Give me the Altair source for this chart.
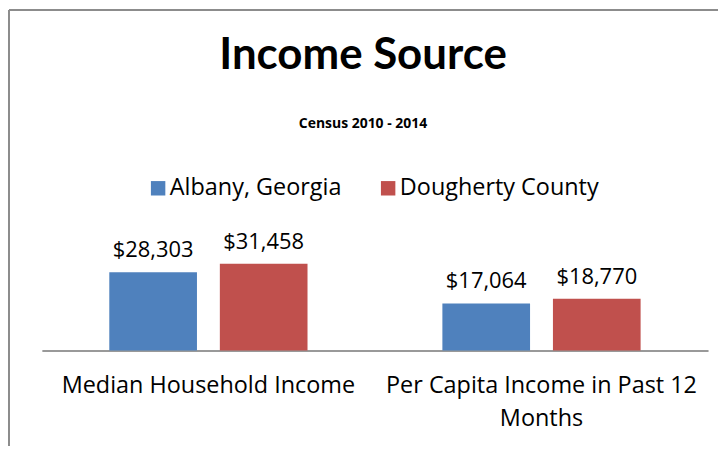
import altair as alt
import pandas as pd

categories = ["Median Household Income", "Per Capita Income in Past 12 Months"]
series = ["Albany, Georgia", "Dougherty County"]
albany = [28303, 17064]
dougherty = [31458, 18770]
colors = ["#4F81BD", "#C0504D"]
wrapped = {"Per Capita Income in Past 12 Months": ["Per Capita Income in Past 12", "Months"]}

rows = []
for i, c in enumerate(categories):
    rows.append({"category": c, "series": series[0], "value": albany[i]})
    rows.append({"category": c, "series": series[1], "value": dougherty[i]})
df = pd.DataFrame(rows)

label_expr = "datum.label"
for k, v in wrapped.items():
    label_expr = f"datum.label == '{k}' ? {v!r} : " + label_expr

FONT = "Open Sans"
TFONT = "Lato"

x_enc = alt.X("category:N", sort=categories,
              scale=alt.Scale(paddingInner=0, paddingOuter=0),
              axis=alt.Axis(title=None, ticks=False, labelAngle=0, labelFontSize=23.5,
                            labelFont=FONT, labelColor="black", labelPadding=23,
                            labelLineHeight=33, labelLimit=0, labelExpr=label_expr,
                            domainColor="#999999", domainWidth=2))
xo_enc = alt.XOffset("series:N", sort=series,
                     scale=alt.Scale(paddingInner=0.207, paddingOuter=0.61))
y_enc = alt.Y("value:Q", scale=alt.Scale(domain=[0, 35000]), axis=None)

base = alt.Chart(df)
bars = base.mark_bar().encode(
    x=x_enc, xOffset=xo_enc, y=y_enc,
    color=alt.Color("series:N", sort=series,
                    scale=alt.Scale(domain=series, range=colors),
                    legend=alt.Legend(title=None, orient="none", legendX=105, legendY=-78,
                                      direction="horizontal", symbolType="square",
                                      symbolSize=210, symbolStrokeWidth=0,
                                      labelFontSize=23.5, labelFont=FONT, labelColor="black",
                                      labelLimit=400, labelOffset=0, columnPadding=35,
                                      padding=0)),
)
labels = base.mark_text(dy=-15, baseline="alphabetic", fontSize=22, font=FONT, color="black").encode(
    x=x_enc, xOffset=xo_enc, y=y_enc,
    text=alt.Text("value:Q", format="$,.0f"),
)

frame_df = pd.DataFrame({"a": [0]})
left_border = alt.Chart(frame_df).mark_rule(color="#8c8c8c", strokeWidth=2).encode(
    x=alt.value(-33), y=alt.value(-245), y2=alt.value(200))
top_border = alt.Chart(frame_df).mark_rule(color="#8c8c8c", strokeWidth=2).encode(
    x=alt.value(-33), x2=alt.value(700), y=alt.value(-245))

chart = alt.layer(bars, labels, left_border, top_border).properties(
    width=669, height=97,
    title=alt.TitleParams(text="Income Source", subtitle="Census 2010 - 2014",
                          font=TFONT, fontSize=44, fontWeight="bold", color="black",
                          subtitleFont=FONT, subtitleFontSize=14, subtitleFontWeight="bold",
                          subtitleColor="black", subtitlePadding=40,
                          anchor="middle", dx=-12, dy=123, offset=0),
    autosize=alt.AutoSizeParams(type="none"),
    padding={"left": 34, "top": 246, "right": 10, "bottom": 95},
).configure_view(stroke=None)

chart.save("out.html", embed_options={"renderer": "svg", "actions": False})
